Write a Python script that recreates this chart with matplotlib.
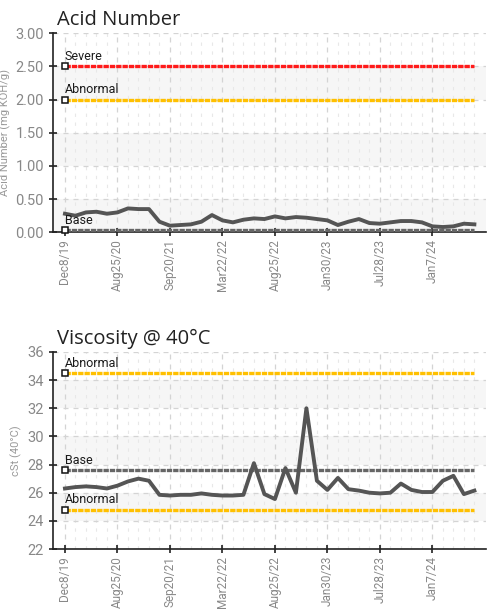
import matplotlib
matplotlib.use("Agg")
import matplotlib.pyplot as plt
from matplotlib.ticker import FixedLocator, MultipleLocator
import numpy as np

# sample dates shown on the axis (every 5th sample)
tick_labels = ["Dec8/19", "Aug25/20", "Sep20/21", "Mar22/22",
               "Aug25/22", "Jan30/23", "Jul28/23", "Jan7/24"]
tick_every = 5

acid_number = [0.28, 0.25, 0.30, 0.31, 0.28, 0.30, 0.36, 0.35, 0.35, 0.16,
               0.10, 0.11, 0.12, 0.16, 0.26, 0.18, 0.15, 0.19, 0.21, 0.20,
               0.24, 0.21, 0.23, 0.22, 0.20, 0.18, 0.11, 0.16, 0.20, 0.14,
               0.13, 0.15, 0.17, 0.17, 0.15, 0.09, 0.08, 0.09, 0.13, 0.12]

viscosity = [26.3, 26.4, 26.45, 26.4, 26.3, 26.5, 26.8, 27.0, 26.85, 25.85,
             25.8, 25.85, 25.85, 25.95, 25.85, 25.8, 25.8, 25.85, 28.1, 25.9,
             25.55, 27.75, 26.0, 32.0, 26.85, 26.2, 27.05, 26.25, 26.15, 26.0,
             25.95, 26.0, 26.65, 26.2, 26.05, 26.05, 26.85, 27.2, 25.9, 26.15]

acid_limits = [("Severe", 2.50, "#ff1a1a"), ("Abnormal", 2.00, "#ffc000"), ("Base", 0.03, "#666666")]
visc_limits = [("Abnormal", 34.5, "#ffc000"), ("Base", 27.6, "#666666"), ("Abnormal", 24.8, "#ffc000")]

NARROW = ["Roboto", "DejaVu Sans"]


def draw_panel(ax, values, limits, ymin, ymax, ystep, yfmt, ylabel, title, label_x):
    n = len(values)
    x = np.arange(n)

    # alternating bands
    edges = np.arange(ymax, ymin - 1e-9, -ystep)
    for k in range(len(edges) - 1):
        if k % 2 == 1:
            ax.axhspan(edges[k + 1], edges[k], color="#f6f6f6", zorder=0, lw=0)

    ax.set_xlim(-1.14, 40.1)
    ax.set_ylim(ymin, ymax)
    major = list(range(0, n, tick_every))
    ax.xaxis.set_major_locator(FixedLocator(major))
    ax.xaxis.set_minor_locator(FixedLocator([i for i in range(n) if i % tick_every]))
    ax.set_xticklabels(tick_labels, rotation=90, color="#888888", fontsize=8.5, family=NARROW)
    ax.yaxis.set_major_locator(MultipleLocator(ystep))
    ax.set_yticklabels([yfmt.format(v) for v in ax.get_yticks()], color="#888888",
                       fontsize=10.5, family=NARROW)

    ax.grid(which="major", axis="both", color="#d4d4d4", linestyle=(0, (4, 4)), linewidth=0.9)
    ax.grid(which="minor", axis="x", color="#e8e8e8", linestyle=(0, (3, 5)), linewidth=0.8)
    ax.set_axisbelow(True)

    ax.tick_params(axis="both", which="major", direction="inout", length=6, width=1.2, color="#222222")
    ax.tick_params(axis="x", which="major", pad=2)
    ax.tick_params(axis="x", which="minor", length=0)
    for side in ("top", "right"):
        ax.spines[side].set_visible(False)
    for side in ("left", "bottom"):
        ax.spines[side].set_color("#222222")
        ax.spines[side].set_linewidth(1.2)

    for name, level, color in limits:
        ax.plot([0, n - 1], [level, level], color=color, lw=2.4,
                linestyle=(0, (1.6, 0.3)), zorder=3, solid_capstyle="butt")
        ax.plot([0], [level], marker="s", ms=5, mfc="white", mec="#111111", mew=1.1,
                zorder=5, clip_on=False)
        ax.annotate(name, (0, level), xytext=(0, 2.5), textcoords="offset points",
                    ha="left", va="bottom", fontsize=9, color="#1a1a1a", family=NARROW, zorder=6)

    ax.plot(x, values, color="#555555", lw=2.8, zorder=4, solid_joinstyle="round")

    ax.set_ylabel(ylabel, color="#999999", fontsize=8, family=NARROW)
    ax.yaxis.set_label_coords(label_x, 0.5)
    ax.set_title(title, loc="left", fontsize=14.5, color="#222222", pad=6, x=0.01,
                 family=["Open Sans", "DejaVu Sans"])


fig = plt.figure(figsize=(4.87, 6.13), dpi=100)
ax1 = fig.add_axes([0.1088, 0.621, 0.889, 0.325])
ax2 = fig.add_axes([0.1088, 0.1044, 0.889, 0.3214])

draw_panel(ax1, acid_number, acid_limits, 0.0, 3.0, 0.5, "{:.2f}",
           "Acid Number (mg KOH/g)", "Acid Number", -0.098)
draw_panel(ax2, viscosity, visc_limits, 22, 36, 2, "{:.0f}",
           "cSt (40°C)", "Viscosity @ 40°C", -0.072)

fig.savefig("out.png", dpi=100, facecolor="white")
